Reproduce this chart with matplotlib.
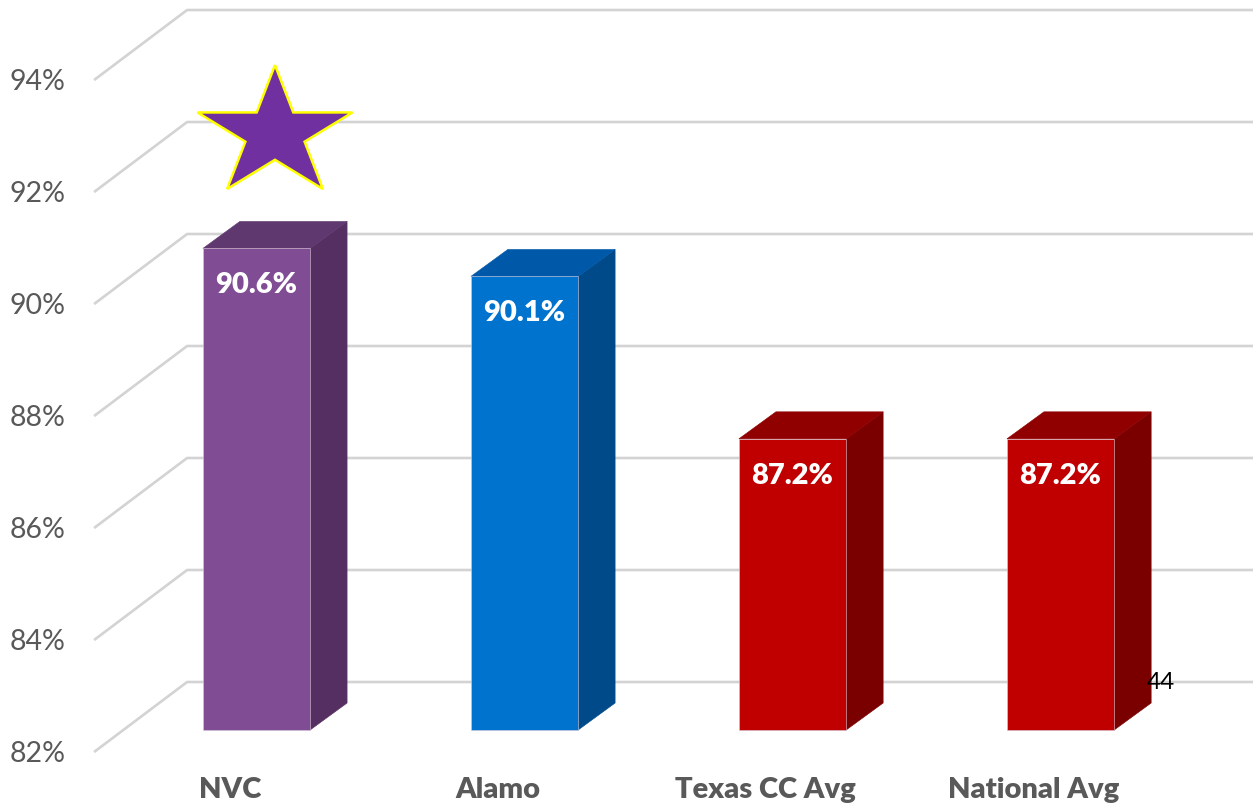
import numpy as np
import matplotlib.pyplot as plt
from matplotlib.patches import Polygon

categories = ['NVC', 'Alamo', 'Texas CC Avg', 'National Avg']
values = [90.6, 90.1, 87.2, 87.2]
value_labels = ['90.6%', '90.1%', '87.2%', '87.2%']
y_ticks = [82, 84, 86, 88, 90, 92, 94]
y_tick_labels = ['82%', '84%', '86%', '88%', '90%', '92%', '94%']

# face colours: front, top, side
faces = [('#804c94', '#603870', '#552f62'),
         ('#0073cf', '#0058a8', '#004a8a'),
         ('#c00000', '#900000', '#7a0000'),
         ('#c00000', '#900000', '#7a0000')]

plt.rcParams['font.family'] = ['Lato', 'DejaVu Sans']

fig = plt.figure(figsize=(12.53, 8.06), dpi=100)
ax = fig.add_axes([0, 0, 1, 1])
ax.set_xlim(-0.957, 3.718)
ax.set_ylim(80.643, 95.036)
ax.axis('off')

base = 82
bw = 0.4
ddx, ddy = 0.138, 0.482        # bar depth
fx, fy = -0.108, -0.393        # front axis plane vs bar plane
wall_x0 = -0.606               # left edge of the floor / wall
wdx, wdy = 0.347, 1.25         # wall depth

# gridlines (side wall diagonal + back wall)
for t, lab in zip(y_ticks, y_tick_labels):
    y0 = t + fy
    ax.plot([wall_x0, wall_x0 + wdx, 3.718], [y0, y0 + wdy, y0 + wdy],
            color='#d3d3d3', lw=1.9, solid_capstyle='butt', zorder=1)
    ax.text(-0.712, y0 - 0.03, lab, ha='right', va='center', fontsize=20.5,
            color='#595959')

# 3D bars
for i, (v, c) in enumerate(zip(values, faces)):
    l, r = i - bw / 2, i + bw / 2
    front = Polygon([(l, base), (r, base), (r, v), (l, v)], closed=True,
                    fc=c[0], ec='#d8c8d8', lw=0.4, zorder=3)
    top = Polygon([(l, v), (l + ddx, v + ddy), (r + ddx, v + ddy), (r, v)],
                  closed=True, fc=c[1], ec=c[1], lw=0.4, zorder=3)
    side = Polygon([(r, base), (r + ddx, base + ddy), (r + ddx, v + ddy), (r, v)],
                   closed=True, fc=c[2], ec=c[2], lw=0.4, zorder=3)
    for p in (side, top, front):
        ax.add_patch(p)
    ax.text(i, v - 0.66, value_labels[i], ha='center', va='center',
            fontsize=21, fontweight='heavy', color='white', zorder=4)
    ax.text(i - 0.1, 80.93, categories[i], ha='center', va='center',
            fontsize=21, fontweight='heavy', color='#595959')

# star over the NVC bar
cx, cy = 0.069, 92.65
rx, ry = 0.304, 1.223
ang = np.pi / 2 + np.arange(10) * np.pi / 5
rad = np.where(np.arange(10) % 2 == 0, 1.0, 0.382)
star = Polygon(np.column_stack([cx + rx * rad * np.cos(ang),
                                cy + ry * rad * np.sin(ang)]),
               closed=True, fc='#7030a0', ec='#ffff00', lw=1.8, zorder=5)
ax.add_patch(star)

# page number left on the slide
ax.text(3.375, 82.85, '44', ha='center', va='center', fontsize=17.5,
        color='black', zorder=6)

fig.savefig('out.png', dpi=100)
